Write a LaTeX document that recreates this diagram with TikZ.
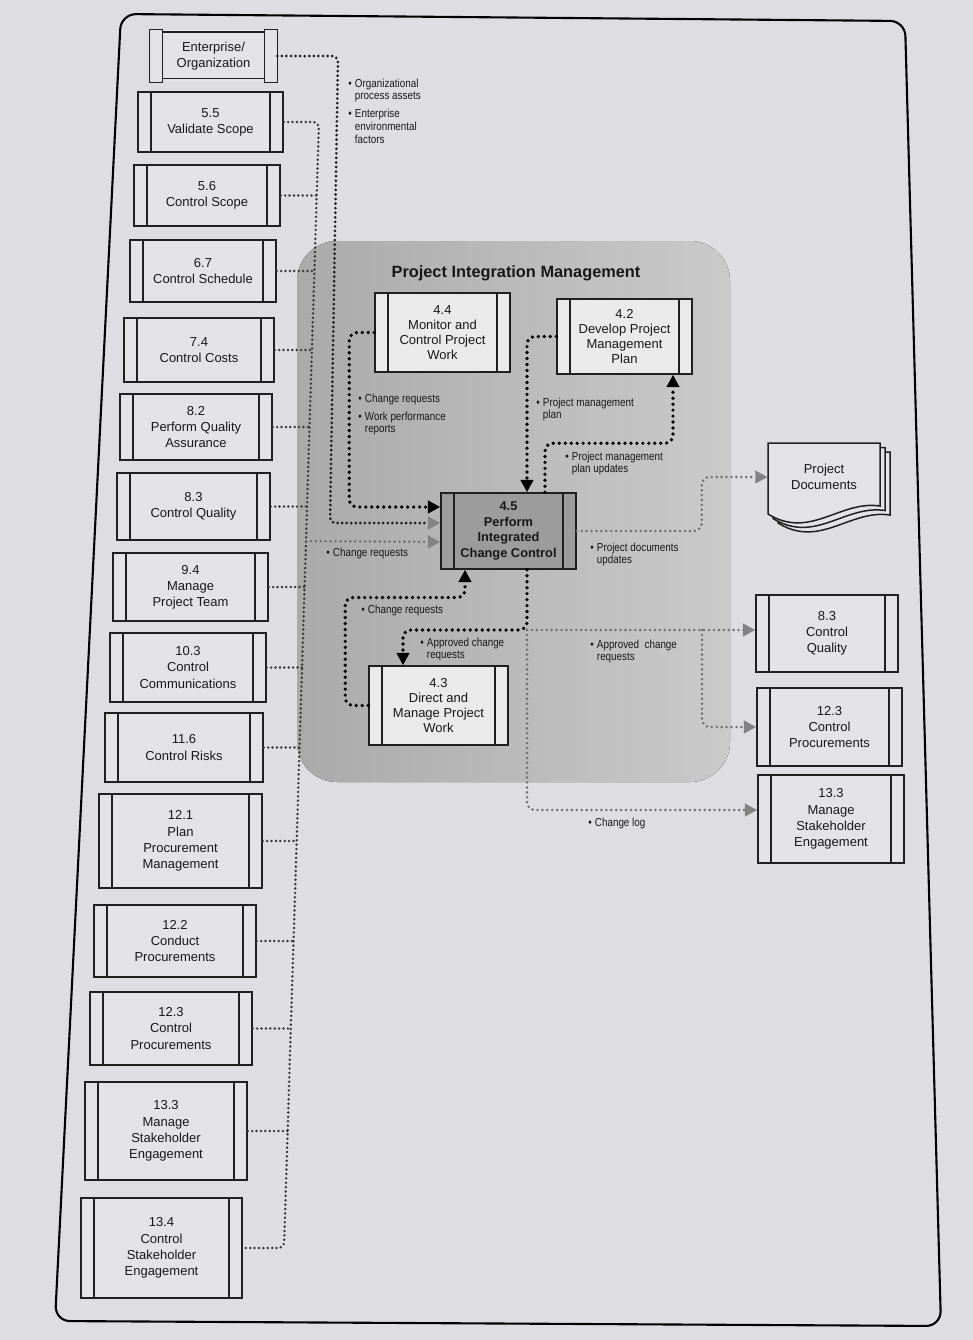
\documentclass[tikz,border=0pt]{standalone}
\usepackage{fontspec}
\setmainfont{Liberation Sans}
\newfontfamily\narrowf[FakeStretch=0.85]{Liberation Sans}
\usetikzlibrary{arrows.meta,calc}
\definecolor{page}{RGB}{222,222,226}
\definecolor{boxc}{RGB}{227,227,230}
\definecolor{wbox}{RGB}{234,234,235}
\definecolor{dbox}{RGB}{156,156,156}
\definecolor{areaL}{RGB}{170,170,170}
\definecolor{areaR}{RGB}{202,202,203}
\definecolor{txt}{RGB}{24,24,24}
\definecolor{gdot}{RGB}{112,112,112}
\definecolor{gtip}{RGB}{130,130,130}
\newcommand\boxfont{\fontsize{7.4}{9.2}\selectfont}
\newcommand\cboxfont{\fontsize{7.4}{8.6}\selectfont}
\newcommand\bbfont{\bfseries\fontsize{7.3}{8.9}\selectfont}
\newcommand\labfont{\narrowf\fontsize{6.6}{7.2}\selectfont}
\newcommand\blab[1]{\begin{tabular}{@{}l@{\hspace{1.8pt}}l@{}}#1\end{tabular}}
\newcommand\pbox[7][]{\node[proc,#1,minimum width={(#4-#2)*0.02cm},minimum height={(#5-#3)*0.02cm}] (#6) at ({(#2+#4)/2},{(#3+#5)/2}) {#7};}
\tikzset{
  boxline/.style={draw=black!88, line width=0.85pt},
  proc/.style={boxline, fill=boxc, inner sep=0pt, align=center, font=\boxfont, text=txt,
    path picture={\draw[boxline]
      ([xshift=0.26cm]path picture bounding box.north west) -- ([xshift=0.26cm]path picture bounding box.south west)
      ([xshift=-0.26cm]path picture bounding box.north east) -- ([xshift=-0.26cm]path picture bounding box.south east);}},
  blk/.style={draw=black, line width=2.1pt, dash pattern=on 0pt off 3.4pt, line cap=round, rounded corners=0.16cm},
  gry/.style={draw=gdot, line width=1.6pt, dash pattern=on 0pt off 2.8pt, line cap=round, rounded corners=0.16cm},
  busl/.style={draw=black!78, line width=1.55pt, dash pattern=on 0pt off 2.5pt, line cap=round, rounded corners=0.12cm},
  ebus/.style={draw=black!88, line width=1.7pt, dash pattern=on 0pt off 2.6pt, line cap=round, rounded corners=0.12cm},
  tipb/.style={-{Triangle[length=7pt,width=7pt]}},
  tipg/.style={-{Triangle[length=7pt,width=7pt,color=gtip]}},
  lab/.style={anchor=north west, inner sep=0pt, font=\labfont, text=txt, align=left},
}
\begin{document}
\begin{tikzpicture}[x=0.02cm,y=-0.02cm]
\fill[page] (0,0) rectangle (973,1340);
\useasboundingbox (0,0) rectangle (973,1340);
% outer frame
\draw[line width=1.2pt, rounded corners=0.3cm] (121,14) -- (905,21) -- (941,1326) -- (55,1321) -- cycle;
% integration area
\fill[left color=areaL, right color=areaR, rounded corners=0.8cm] (297,241) rectangle (730,782);
\node[font=\bfseries\fontsize{9.3}{11}\selectfont, text=txt] (title) at (516,273) {Project Integration Management};

% left column
\node[fill=boxc, inner sep=0pt, align=center, font=\boxfont, text=txt, minimum width=2.54cm, minimum height=1.04cm] (ent) at (213.5,56) {Enterprise/\\Organization};
\draw[boxline] (ent.north west) rectangle ([xshift=0.26cm]ent.south west);
\draw[boxline] ([xshift=-0.26cm]ent.north east) rectangle (ent.south east);
\draw[boxline] ([xshift=0.26cm,yshift=-0.05cm]ent.north west) -- ([xshift=-0.26cm,yshift=-0.05cm]ent.north east);
\draw[boxline] ([xshift=0.26cm,yshift=0.08cm]ent.south west) -- ([xshift=-0.26cm,yshift=0.08cm]ent.south east);
\pbox{138}{92}{283}{152}{b55}{5.5\\Validate Scope}
\pbox{134}{165}{280}{226}{b56}{5.6\\Control Scope}
\pbox{130}{240}{276}{302}{b67}{6.7\\Control Schedule}
\pbox{124}{318}{274}{382}{b74}{7.4\\Control Costs}
\pbox{120}{394}{272}{460}{b82}{8.2\\Perform Quality\\Assurance}
\pbox{117}{473}{270}{540}{b83}{8.3\\Control Quality}
\pbox{113}{553}{268}{621}{b94}{9.4\\Manage\\Project Team}
\pbox{110}{633}{266}{702}{b103}{10.3\\Control\\Communications}
\pbox{105}{713}{263}{782}{b116}{11.6\\Control Risks}
\pbox{99}{794}{262}{888}{b121}{12.1\\Plan\\Procurement\\Management}
\pbox{94}{905}{256}{977}{b122}{12.2\\Conduct\\Procurements}
\pbox{90}{992}{252}{1065}{b123}{12.3\\Control\\Procurements}
\pbox{85}{1082}{247}{1180}{b133}{13.3\\Manage\\Stakeholder\\Engagement}
\pbox{81}{1198}{242}{1298}{b134}{13.4\\Control\\Stakeholder\\Engagement}

% central
\pbox[fill=wbox,font=\cboxfont]{375}{293}{510}{372}{m44}{4.4\\Monitor and\\Control Project\\Work}
\pbox[fill=wbox,font=\cboxfont]{557}{299}{692}{374}{m42}{4.2\\Develop Project\\Management\\Plan}
\pbox[fill=dbox,font=\bbfont]{441}{493}{576}{569}{m45}{4.5\\Perform\\Integrated\\Change Control}
\pbox[fill=wbox,font=\cboxfont]{369}{666}{508}{745}{m43}{4.3\\Direct and\\Manage Project\\Work}

% right
\pbox{756}{595}{898}{672}{r83}{8.3\\Control\\Quality}
\pbox{757}{688}{902}{766}{r123}{12.3\\Control\\Procurements}
\pbox{758}{775}{904}{863}{r133}{13.3\\Manage\\Stakeholder\\Engagement}

% project documents
\foreach \dx/\dy in {10/9,5/4.5,0/0}{
  \draw[boxline, fill=boxc] ({768+\dx},{443+\dy}) -- ({880+\dx},{443+\dy}) -- ({880+\dx},{506+\dy})
     .. controls ({840+\dx},{500+\dy}) and ({810+\dx},{540+\dy}) .. ({768+\dx},{514+\dy}) -- cycle;
}
\node[font=\boxfont, text=txt, align=center, inner sep=0pt, minimum width=2.24cm, minimum height=1.36cm] (pdoc) at (824,477) {Project\\Documents};

% buses
\coordinate (bt) at (319,122);
\coordinate (bb) at (284,1248);
\draw[busl] (b55.east) -- (bt) -- (bb) -- (b134.east);
\coordinate (j56) at (316.7,195.5);
\coordinate (j67) at (314.4,271);
\coordinate (j74) at (311.9,350);
\coordinate (j82) at (309.5,427);
\coordinate (j83) at (307.0,506.5);
\coordinate (j94) at (304.5,587);
\coordinate (j103) at (302.0,667.5);
\coordinate (j116) at (299.6,747.5);
\coordinate (j121) at (296.7,841);
\coordinate (j122) at (293.5,941);
\coordinate (j123) at (290.8,1028.5);
\coordinate (j133) at (287.6,1131);
\coordinate (j45) at (306,541);
\foreach \b in {56,67,74,82,83,94,103,116,121,122,123,133}{
  \draw[busl] (b\b.east) -- (j\b);
}
\draw[gry, tipg] (j45) -- ([yshift=-0.22cm]m45.west);
\draw[ebus, tipg] (ent.east) -- (338,56) -- (330,523) -- ([yshift=0.16cm]m45.west);

% central connectors
\draw[blk, tipb] (m44.west) -- ++(-25,0) |- ([yshift=0.48cm]m45.west);
\draw[blk, tipb] (m42.west) -| ([xshift=0.37cm]m45.north);
\draw[blk, tipb] ([xshift=0.73cm]m45.north) -- ++(0,-49) -| ([xshift=0.97cm]m42.south);
\draw[gry, tipg] (m45.east) -- ++(125,0) |- (pdoc.west);
\draw[blk, tipb] (m43.west) -- ++(-23,0) -- ++(0,-108) -| ([xshift=-0.87cm]m45.south);
\coordinate (jn) at (527,630);
\coordinate (jb) at (702,630);
\draw[blk, tipb] ([xshift=0.37cm]m45.south) -- (jn) -| ([xshift=-0.71cm]m43.north);
\draw[gry, tipg] (jn) -- (jn -| r83.west);
\draw[gry, tipg] (jb) |- (r123.west);
\draw[gry, tipg] (jn) |- ([yshift=0.18cm]r133.west);

% labels
\node[lab] (l1) at (348,78) {\blab{\textbullet&Organizational\\&process assets\\[3pt]\textbullet&Enterprise\\&environmental\\&factors}};
\node[lab] (l2) at (358,393) {\blab{\textbullet&Change requests\\[3pt]\textbullet&Work performance\\&reports}};
\node[lab] (l3) at (536,397) {\blab{\textbullet&Project management\\&plan}};
\node[lab] (l4) at (565,451) {\blab{\textbullet&Project management\\&plan updates}};
\node[lab] (l5) at (326,547) {\blab{\textbullet&Change requests}};
\node[lab] (l6) at (590,542) {\blab{\textbullet&Project documents\\&updates}};
\node[lab] (l7) at (361,604) {\blab{\textbullet&Change requests}};
\node[lab] (l8) at (420,637) {\blab{\textbullet&Approved change\\&requests}};
\node[lab] (l9) at (590,639) {\blab{\textbullet&Approved\ \ change\\&requests}};
\node[lab] (l10) at (588,817) {\blab{\textbullet&Change log}};
\end{tikzpicture}
\end{document}
